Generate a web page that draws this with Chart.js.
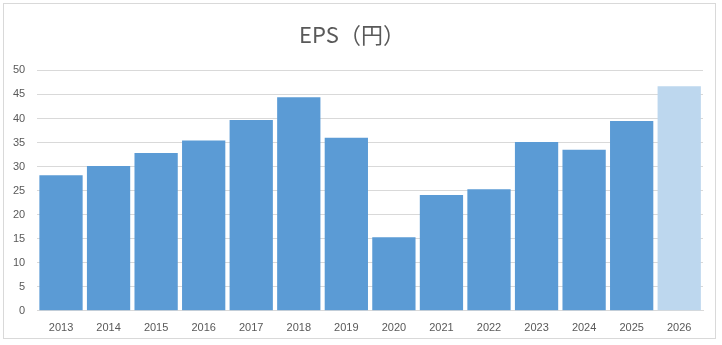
<!DOCTYPE html>
<html>
<head>
<meta charset="utf-8">
<script src="https://cdn.jsdelivr.net/npm/chart.js@4/dist/chart.umd.min.js"></script>
<style>
  html, body { margin: 0; padding: 0; background: #fff; }
  #frame {
    position: absolute; left: 3px; top: 3px;
    width: 713px; height: 336px;
    border: 1px solid #d9d9d9; box-sizing: border-box;
  }
  #wrap { position: absolute; left: 0; top: 0; width: 722px; height: 345px; }
</style>
</head>
<body>
<div id="frame"></div>
<div id="wrap"><canvas id="epsChart" width="722" height="345"></canvas></div>
<script>
// 年度とEPS（円）
const years = ["2013", "2014", "2015", "2016", "2017", "2018", "2019",
               "2020", "2021", "2022", "2023", "2024", "2025", "2026"];
const eps = [28.2, 30.1, 32.8, 35.4, 39.7, 44.4, 36.0,
             15.3, 24.1, 25.3, 35.1, 33.5, 39.5, 46.7];
const yTicks = [0, 5, 10, 15, 20, 25, 30, 35, 40, 45, 50];

// 実績は濃い青、予想（最終年）は薄い青
const barColors = years.map((y, i) => i === years.length - 1 ? "#bdd7ee" : "#5b9bd5");

const ctx = document.getElementById("epsChart").getContext("2d");
const fontFamily = "'Noto Sans CJK JP', 'DejaVu Sans', sans-serif";

new Chart(ctx, {
    type: "bar",
    data: {
        labels: years,
        datasets: [{
            label: "EPS",
            data: eps,
            backgroundColor: barColors,
            borderWidth: 0,
            barPercentage: 0.91,
            categoryPercentage: 1.0
        }]
    },
    options: {
        responsive: false,
        animation: false,
        layout: { padding: { left: 1, right: 19, top: 4, bottom: 7 } },
        plugins: {
            legend: { display: false },
            tooltip: { enabled: false },
            title: {
                display: true,
                text: "EPS（円）",
                color: "#595959",
                font: { family: fontFamily, size: 22, weight: "normal" },
                padding: { top: 17, bottom: 23 }
            }
        },
        scales: {
            x: {
                grid: { display: false },
                border: { display: true, color: "#d9d9d9", width: 1 },
                ticks: {
                    color: "#595959",
                    font: { family: "'Liberation Sans', sans-serif", size: 11 },
                    maxRotation: 0,
                    padding: 3
                }
            },
            y: {
                min: 0,
                max: 50,
                afterBuildTicks: axis => { axis.ticks = yTicks.map(v => ({ value: v })); },
                grid: { color: "#d9d9d9", drawTicks: false },
                border: { display: false },
                ticks: {
                    color: "#595959",
                    font: { family: "'Liberation Sans', sans-serif", size: 11 },
                    padding: 12
                }
            }
        }
    }
});
</script>
</body>
</html>
